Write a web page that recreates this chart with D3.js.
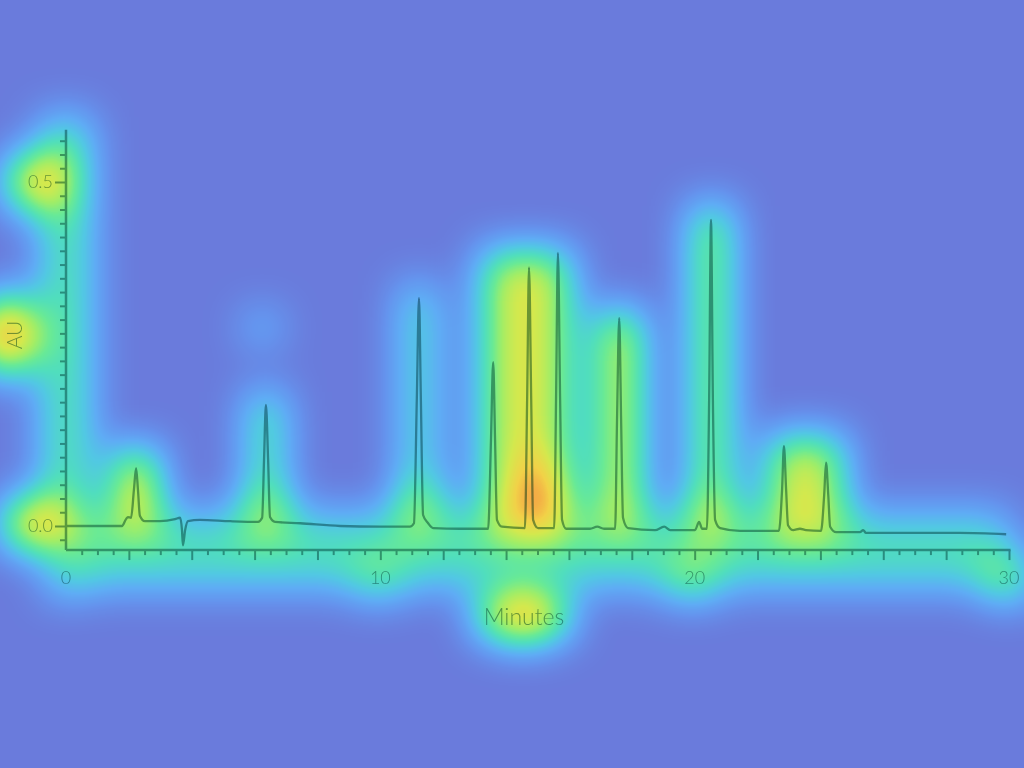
<!DOCTYPE html>
<html>
<head>
<meta charset="utf-8">
<script src="https://cdn.jsdelivr.net/npm/d3@7"></script>
<style>
  html, body { margin: 0; padding: 0; background: #6a7cdc; }
  svg { display: block; }
  .ink { mix-blend-mode: multiply; }
  text { font-family: "Lato", "DejaVu Sans", sans-serif; font-weight: 300; }
</style>
</head>
<body>
<svg id="chart" width="1024" height="768"></svg>
<script>
// ---------------- data ----------------
// chromatogram trace: [minutes, AU]
const traceMinutes = [0, 1.70, 1.78, 1.91, 1.97, 2.07, 2.16, 2.23, 2.29, 2.35, 2.51, 2.99, 3.47, 3.63, 3.69, 3.72, 3.79, 3.88, 4.26, 5.22,
  6.11, 6.24, 6.30, 6.36, 6.43, 6.49, 6.65, 7.45, 8.72, 9.99, 10.94, 11.07, 11.16, 11.23, 11.29, 11.36, 11.52, 11.68, 12.54,
  13.43, 13.52, 13.59, 13.65, 13.71, 13.87, 14.60, 14.67, 14.73, 14.80, 14.86, 15.02, 15.53, 15.59, 15.65, 15.72, 15.78, 15.91,
  16.67, 16.90, 17.12, 17.47, 17.53, 17.60, 17.66, 17.72, 17.88, 18.74, 19.03, 19.22, 20.01, 20.14, 20.24, 20.39, 20.46, 20.52,
  20.58, 20.65, 20.81, 21.44, 22.68, 22.78, 22.84, 22.91, 22.97, 23.13, 23.35, 23.54, 24.02, 24.12, 24.18, 24.25, 24.31, 24.50,
  25.26, 25.36, 25.45, 27.17, 28.44, 29.91];
const traceAU = [0, 0, 0, 0.010, 0.013, 0.012, 0.052, 0.084, 0.052, 0.015, 0.007, 0.007, 0.010, 0.012, -0.006, -0.028, -0.006, 0.007, 0.009, 0.007,
  0.006, 0.012, 0.096, 0.176, 0.096, 0.013, 0.006, 0.004, 0.000, -0.001, -0.001, 0.004, 0.183, 0.331, 0.183, 0.016, 0.004, -0.003, -0.004,
  -0.004, 0.125, 0.238, 0.125, 0.009, -0.001, -0.003, 0.183, 0.376, 0.183, 0.009, -0.003, -0.003, 0.183, 0.397, 0.183, 0.009, -0.004,
  -0.004, -0.001, -0.004, -0.004, 0.154, 0.302, 0.154, 0.012, -0.003, -0.006, -0.001, -0.006, -0.006, 0.006, -0.004, -0.004, 0.183, 0.445,
  0.183, 0.009, -0.003, -0.007, -0.007, 0.052, 0.116, 0.052, 0.001, -0.006, -0.004, -0.006, -0.007, 0.045, 0.092, 0.045, -0.001, -0.009,
  -0.009, -0.006, -0.010, -0.010, -0.010, -0.012];

const xLabelValues = [0, 10, 20, 30];
const yLabelValues = [0.0, 0.5];
const yLabelText = ["0.0", "0.5"];
const xTitle = "Minutes";
const yTitle = "AU";

// saliency overlay spots: centre in data units [min, AU], radii in px, strength
const heatSpots = [
  [-0.89, 0.500, 34, 28, 0.90],   // 0.5 label
  [-1.90, 0.278, 30, 40, 1.00],   // AU
  [-0.99, 0.003, 34, 26, 0.95],   // 0.0 label
  [-0.03, -0.078, 18, 16, 0.45],  // 0
  [9.93, -0.078, 22, 18, 0.55],   // 10
  [19.92, -0.078, 24, 18, 0.70],  // 20
  [29.97, -0.078, 24, 20, 0.70],  // 30
  [14.54, -0.131, 48, 24, 1.00],  // Minutes
  [15.18, 0.042, 24, 40, 1.00],   // hot spot between peaks
  [6.36, 0.020, 22, 26, 0.55],
  [11.26, 0.026, 22, 28, 0.55],
  [20.52, 0.016, 22, 26, 0.60],
  [6.24, 0.288, 16, 16, 0.45]
];
// saliency bands: [min0, min1, AU top, AU bottom, strength]
const heatBands = [
  [-0.75, 0.75, 0.595, -0.025, 0.50],  // y axis
  [-0.35, 30.2, -0.015, -0.088, 0.42], // x axis
  [0.0, 30.0, 0.020, -0.015, 0.38],    // baseline
  [1.59, 2.86, 0.110, -0.013, 0.92],
  [5.85, 6.87, 0.195, -0.013, 0.60],
  [10.72, 11.74, 0.350, -0.013, 0.50],
  [13.24, 16.04, 0.400, -0.020, 0.73],
  [16.96, 18.24, 0.312, -0.013, 0.85],
  [19.95, 21.09, 0.465, -0.013, 0.72],
  [22.30, 24.73, 0.130, -0.020, 0.72]
];

// ---------------- chart ----------------
const svg = d3.select("#chart");
const x = d3.scaleLinear().domain([0, 30]).range([66, 1009]);
const y = d3.scaleLinear().domain([0, 0.5]).range([526, 182]);

// colormap for the overlay
const cmap = [[106,124,220],[101,148,238],[95,172,245],[82,200,228],[80,222,190],[105,234,150],
              [160,238,104],[212,233,78],[242,210,72],[245,155,68],[238,100,58]];
const defs = svg.append("defs");
const f = defs.append("filter").attr("id", "heat")
  .attr("filterUnits", "userSpaceOnUse").attr("x", 0).attr("y", 0)
  .attr("width", 1024).attr("height", 768)
  .attr("color-interpolation-filters", "sRGB");
f.append("feGaussianBlur").attr("in", "SourceGraphic").attr("stdDeviation", 22).attr("result", "b");
f.append("feColorMatrix").attr("in", "b").attr("type", "matrix")
  .attr("values", "0 0 0 1 0  0 0 0 1 0  0 0 0 1 0  0 0 0 0 1").attr("result", "g");
const ct = f.append("feComponentTransfer").attr("in", "g");
["R", "G", "B"].forEach((c, i) => {
  ct.append("feFunc" + c).attr("type", "table")
    .attr("tableValues", cmap.map(v => (v[i] / 255).toFixed(3)).join(" "));
});

const heat = svg.append("g").attr("filter", "url(#heat)");
heat.selectAll("rect").data(heatBands).join("rect")
  .attr("x", d => x(d[0])).attr("y", d => y(d[2]))
  .attr("width", d => x(d[1]) - x(d[0])).attr("height", d => y(d[3]) - y(d[2]))
  .attr("fill", "#fff").attr("fill-opacity", d => d[4]);
heat.selectAll("ellipse").data(heatSpots).join("ellipse")
  .attr("cx", d => x(d[0])).attr("cy", d => y(d[1]))
  .attr("rx", d => d[2]).attr("ry", d => d[3])
  .attr("fill", "#fff").attr("fill-opacity", d => d[4]);

// ink layer (multiplied over the overlay)
const ink = svg.append("g").attr("class", "ink");
const inkColor = "rgb(128,165,165)";

const trace = traceMinutes.map((m, i) => [m, traceAU[i]]);
ink.append("path").datum(trace)
  .attr("fill", "none").attr("stroke", inkColor).attr("stroke-width", 2.3)
  .attr("stroke-linejoin", "round")
  .attr("d", d3.line().x(d => x(d[0])).y(d => y(d[1])).curve(d3.curveMonotoneX));

// axes lines
const yTop = 0.576, yBot = -0.035;
ink.append("line").attr("x1", x(0)).attr("x2", x(0)).attr("y1", y(yTop)).attr("y2", y(yBot))
  .attr("stroke", inkColor).attr("stroke-width", 2.5);
ink.append("line").attr("x1", x(0)).attr("x2", x(30.05)).attr("y1", y(yBot)).attr("y2", y(yBot))
  .attr("stroke", inkColor).attr("stroke-width", 2.5);

// x ticks
const xMinor = d3.range(0.5, 30.01, 0.5);
const gx = ink.append("g").attr("transform", `translate(0,${y(yBot)})`);
gx.call(d3.axisBottom(x).tickValues(xMinor.filter(v => v % 2 !== 0)).tickSize(5).tickFormat(""));
gx.call(g => g.select(".domain").remove());
const gx2 = ink.append("g").attr("transform", `translate(0,${y(yBot)})`);
gx2.call(d3.axisBottom(x).tickValues(xMinor.filter(v => v % 2 === 0)).tickSize(10).tickFormat(""));
gx2.call(g => g.select(".domain").remove());

ink.append("g").selectAll("text").data(xLabelValues).join("text")
  .attr("x", d => x(d)).attr("y", 584).attr("text-anchor", "middle")
  .attr("font-size", 18).attr("fill", inkColor).text(d => d);

// y ticks
const yMinor = d3.range(-0.02, 0.5701, 0.02).map(v => +v.toFixed(2));
const gy = ink.append("g").attr("transform", `translate(${x(0)},0)`);
gy.call(d3.axisLeft(y).tickValues(yMinor.filter(v => !yLabelValues.includes(v))).tickSize(6).tickFormat(""));
gy.call(g => g.select(".domain").remove());
const gy2 = ink.append("g").attr("transform", `translate(${x(0)},0)`);
gy2.call(d3.axisLeft(y).tickValues(yLabelValues).tickSize(11).tickFormat(""));
gy2.call(g => g.select(".domain").remove());
ink.selectAll(".tick line").attr("stroke", inkColor).attr("stroke-width", 2);

ink.append("g").selectAll("text").data(yLabelValues).join("text")
  .attr("x", 53).attr("y", d => y(d) + 6).attr("text-anchor", "end")
  .attr("font-size", 18).attr("fill", inkColor).text((d, i) => yLabelText[i]);

ink.append("text").attr("transform", `translate(22,${335}) rotate(-90)`)
  .attr("text-anchor", "middle").attr("font-size", 21).attr("fill", inkColor).text(yTitle);
ink.append("text").attr("x", 524).attr("y", 625).attr("text-anchor", "middle")
  .attr("font-size", 23).attr("fill", inkColor).text(xTitle);
</script>
</body>
</html>
